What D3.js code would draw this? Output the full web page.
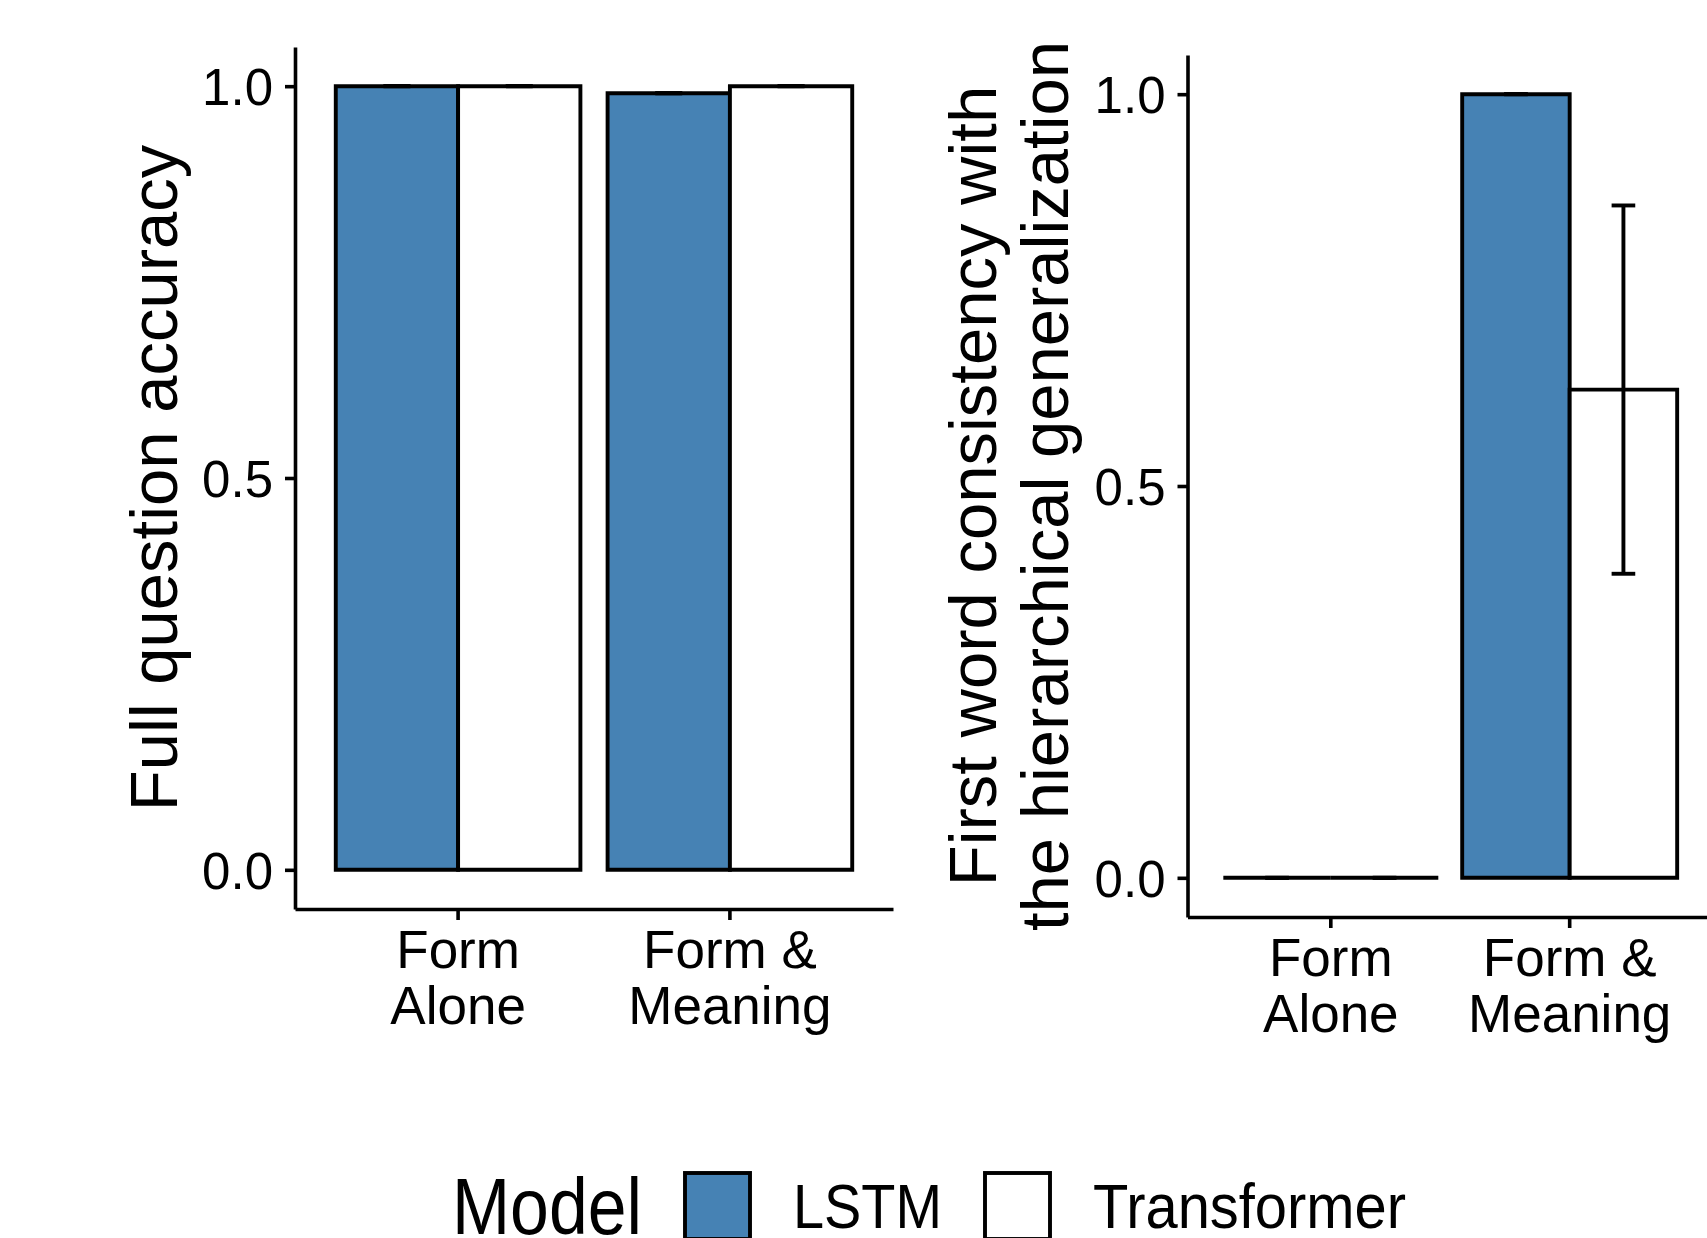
<!DOCTYPE html>
<html>
<head>
<meta charset="utf-8">
<script src="https://cdn.jsdelivr.net/npm/d3@7"></script>
<style>
  body { margin: 0; background: #fff; }
  text { font-family: "Liberation Sans", Arial, Helvetica, sans-serif; fill: #000; }
</style>
</head>
<body>
<script>
// data
const conditions = ["Form Alone", "Form & Meaning"];
const conditionLines = [["Form", "Alone"], ["Form &", "Meaning"]];
const models = ["LSTM", "Transformer"];
const modelColors = ["steelblue", "#ffffff"];

const accuracyLSTM = [1.0, 0.991];
const accuracyTransformer = [1.0, 1.0];
const accuracyErrLSTM = [0, 0];
const accuracyErrTransformer = [0, 0];

const consistencyLSTM = [0.0, 1.0];
const consistencyTransformer = [0.0, 0.623];
const consistencyErrLSTM = [0, 0];
const consistencyErrTransformer = [0, 0.235];

const yTicks = [0, 0.5, 1.0];

const svg = d3.select("body").append("svg")
    .attr("width", 1707)
    .attr("height", 1238);

function rows(lstm, trans, errL, errT) {
    const out = [];
    conditions.forEach((c, i) => {
        out.push({ cond: c, model: models[0], value: lstm[i], err: errL[i] });
        out.push({ cond: c, model: models[1], value: trans[i], err: errT[i] });
    });
    return out;
}

function drawPanel(data, cfg) {
    const x = d3.scaleBand()
        .domain(conditions)
        .range(cfg.xRange)
        .paddingInner(0.1)
        .paddingOuter(0.15);
    const xSub = d3.scaleBand()
        .domain(models)
        .range([0, x.bandwidth()])
        .padding(0);
    const y = d3.scaleLinear()
        .domain([-0.05, 1.05])
        .range(cfg.yRange);
    const color = d3.scaleOrdinal().domain(models).range(modelColors);

    const g = svg.append("g");

    // bars (paths so that zero-height bars still show their outline)
    g.selectAll("path.bar")
        .data(data)
        .join("path")
        .attr("class", "bar")
        .attr("d", d => {
            const x0 = x(d.cond) + xSub(d.model);
            const x1 = x0 + xSub.bandwidth();
            return `M${x0},${y(0)}H${x1}V${y(d.value)}H${x0}Z`;
        })
        .attr("fill", d => color(d.model))
        .attr("stroke", "#000")
        .attr("stroke-width", 3.9)
        .attr("stroke-linejoin", "miter");

    // error bars
    const capW = xSub.bandwidth() * 0.22;
    const eb = g.selectAll("g.err")
        .data(data)
        .join("g")
        .attr("class", "err")
        .attr("stroke", "#000")
        .attr("stroke-width", 3.9);
    const cxOf = d => x(d.cond) + xSub(d.model) + xSub.bandwidth() / 2;
    eb.append("line")
        .attr("x1", cxOf).attr("x2", cxOf)
        .attr("y1", d => y(d.value - d.err))
        .attr("y2", d => y(d.value + d.err));
    eb.append("line")
        .attr("x1", d => cxOf(d) - capW / 2).attr("x2", d => cxOf(d) + capW / 2)
        .attr("y1", d => y(d.value + d.err)).attr("y2", d => y(d.value + d.err));
    eb.append("line")
        .attr("x1", d => cxOf(d) - capW / 2).attr("x2", d => cxOf(d) + capW / 2)
        .attr("y1", d => y(d.value - d.err)).attr("y2", d => y(d.value - d.err));

    // y axis
    const yAxis = g.append("g")
        .attr("transform", `translate(${cfg.xRange[0]},0)`)
        .call(d3.axisLeft(y).tickValues(yTicks).tickFormat(d3.format(".1f"))
            .tickSize(10).tickSizeOuter(0).tickPadding(12));
    yAxis.select(".domain").attr("stroke-width", 3.6);
    yAxis.selectAll(".tick line").attr("stroke-width", 3.6);
    yAxis.selectAll(".tick text")
        .attr("font-size", 51)
        .attr("dy", "0.36em");

    // x axis
    const xAxis = g.append("g")
        .attr("transform", `translate(0,${cfg.yRange[0]})`)
        .call(d3.axisBottom(x).tickSize(11).tickSizeOuter(0));
    xAxis.select(".domain").attr("stroke-width", 3.6);
    xAxis.selectAll(".tick line").attr("stroke-width", 3.6);
    xAxis.selectAll(".tick text").remove();
    xAxis.selectAll(".tick").each(function (d, i) {
        const t = d3.select(this).append("text")
            .attr("text-anchor", "middle")
            .attr("font-size", 53)
            .attr("fill", "#000");
        conditionLines[i].forEach((line, j) => {
            t.append("tspan").attr("x", 0).attr("y", 59 + j * 56).text(line);
        });
    });

    // y title
    const yMid = (cfg.yRange[0] + cfg.yRange[1]) / 2;
    cfg.title.forEach((line, j) => {
        svg.append("text")
            .attr("transform", `translate(${cfg.titleX[j]},${yMid}) rotate(-90)`)
            .attr("text-anchor", "middle")
            .attr("font-size", 67)
            .text(line);
    });
}

drawPanel(rows(accuracyLSTM, accuracyTransformer, accuracyErrLSTM, accuracyErrTransformer), {
    xRange: [295, 893],
    yRange: [909, 47],
    title: ["Full question accuracy"],
    titleX: [177]
});

drawPanel(rows(consistencyLSTM, consistencyTransformer, consistencyErrLSTM, consistencyErrTransformer), {
    xRange: [1187.5, 1713],
    yRange: [917, 55],
    title: ["First word consistency with", "the hierarchical generalization"],
    titleX: [996, 1068]
});

// legend along the bottom (cut off by the image edge, as in the original)
const legend = svg.append("g");
let lx = 452;
legend.append("text")
    .attr("x", lx).attr("y", 1234)
    .attr("font-size", 79)
    .attr("textLength", 190).attr("lengthAdjust", "spacingAndGlyphs")
    .text("Model");
lx += 190 + 41;
const labelWidths = [149, 313];
models.forEach((m, i) => {
    legend.append("rect")
        .attr("x", lx + 2).attr("y", 1173)
        .attr("width", 65).attr("height", 66)
        .attr("fill", modelColors[i])
        .attr("stroke", "#000")
        .attr("stroke-width", 3.9);
    lx += 69 + 41;
    legend.append("text")
        .attr("x", lx).attr("y", 1228)
        .attr("font-size", 63)
        .attr("textLength", labelWidths[i]).attr("lengthAdjust", "spacingAndGlyphs")
        .text(m);
    lx += labelWidths[i] + 41;
});
</script>
</body>
</html>
